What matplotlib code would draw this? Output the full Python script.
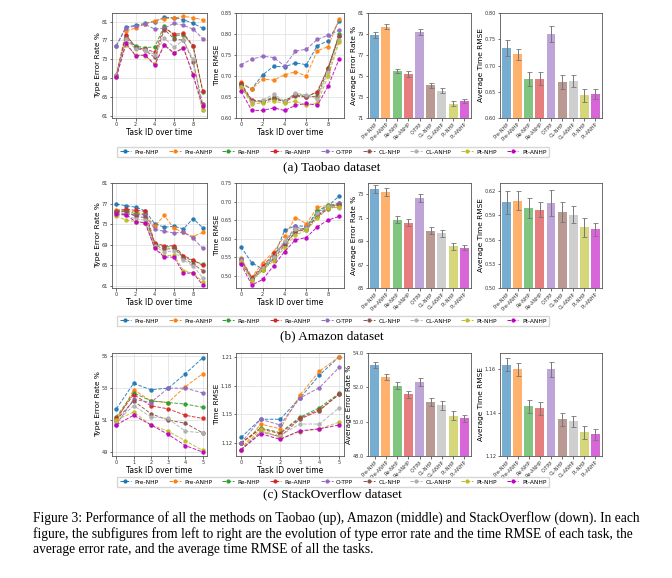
import numpy as np
import matplotlib.pyplot as plt
from matplotlib.lines import Line2D

W, H = 672, 578

methods = ['Pre-NHP', 'Pre-ANHP', 'Re-NHP', 'Re-ANHP', 'O-TPP',
           'CL-NHP', 'CL-ANHP', 'Pt-NHP', 'Pt-ANHP']
colors = ['tab:blue', 'tab:orange', 'tab:green', 'tab:red', 'tab:purple',
          'tab:brown', '#b0b0b0', 'tab:olive', 'm']

# ---------------- Taobao ----------------
tb_err = [
    [75.9, 79.8, 80.2, 80.6, 81.0, 81.9, 81.8, 81.4, 80.6, 79.6],
    [69.5, 79.0, 79.6, 80.5, 81.2, 81.6, 81.7, 82.1, 81.8, 81.4],
    [69.7, 78.0, 75.8, 75.5, 75.6, 80.1, 78.0, 78.2, 75.8, 66.2],
    [69.5, 78.2, 75.5, 75.2, 74.5, 79.7, 78.3, 78.5, 75.9, 66.4],
    [75.8, 79.7, 80.0, 80.4, 79.4, 79.6, 80.6, 80.2, 79.4, 77.4],
    [69.4, 77.6, 75.3, 74.9, 73.4, 79.3, 77.4, 77.0, 72.5, 63.5],
    [69.6, 77.2, 75.2, 75.0, 74.0, 77.5, 75.6, 77.0, 73.0, 62.3],
    [69.3, 76.1, 74.0, 73.8, 72.1, 76.1, 74.4, 75.4, 69.8, 62.2],
    [69.2, 76.4, 73.8, 73.9, 71.8, 76.0, 74.3, 75.4, 69.6, 63.2],
]
tb_rmse = [
    [0.680, 0.670, 0.703, 0.723, 0.722, 0.731, 0.727, 0.772, 0.784, 0.830],
    [0.685, 0.669, 0.693, 0.690, 0.703, 0.710, 0.700, 0.760, 0.770, 0.836],
    [0.680, 0.640, 0.640, 0.650, 0.640, 0.658, 0.652, 0.660, 0.720, 0.800],
    [0.683, 0.643, 0.640, 0.645, 0.640, 0.655, 0.650, 0.663, 0.720, 0.795],
    [0.727, 0.740, 0.747, 0.744, 0.724, 0.759, 0.764, 0.787, 0.797, 0.809],
    [0.678, 0.640, 0.638, 0.648, 0.638, 0.652, 0.650, 0.652, 0.716, 0.796],
    [0.675, 0.637, 0.642, 0.657, 0.640, 0.659, 0.655, 0.645, 0.710, 0.785],
    [0.675, 0.633, 0.636, 0.640, 0.635, 0.640, 0.630, 0.635, 0.700, 0.780],
    [0.664, 0.618, 0.618, 0.624, 0.618, 0.630, 0.635, 0.630, 0.676, 0.740],
]
tb_avg_err = [78.9, 79.7, 75.5, 75.2, 79.2, 74.1, 73.6, 72.35, 72.6]
tb_avg_err_sd = [0.3, 0.25, 0.2, 0.25, 0.25, 0.25, 0.25, 0.25, 0.2]
tb_avg_rmse = [0.734, 0.721, 0.674, 0.675, 0.760, 0.669, 0.671, 0.643, 0.646]
tb_avg_rmse_sd = [0.015, 0.01, 0.013, 0.012, 0.015, 0.013, 0.011, 0.013, 0.01]

# ---------------- Amazon ----------------
am_err = [
    [76.9, 76.6, 76.3, 75.6, 73.1, 72.4, 72.6, 72.1, 74.1, 72.3],
    [75.8, 75.7, 75.4, 74.9, 72.6, 74.7, 72.2, 71.4, 70.6, 71.4],
    [75.4, 75.6, 75.0, 74.9, 69.2, 68.6, 68.6, 66.6, 65.9, 65.2],
    [75.6, 75.9, 75.7, 75.5, 69.4, 68.8, 68.8, 66.9, 66.0, 65.0],
    [75.3, 75.0, 74.8, 74.8, 72.0, 71.6, 71.3, 71.4, 70.3, 68.3],
    [75.3, 75.5, 74.5, 74.3, 69.0, 68.1, 68.3, 66.5, 65.2, 64.0],
    [74.7, 74.8, 74.0, 73.8, 68.7, 67.6, 67.8, 66.0, 64.9, 62.6],
    [74.6, 73.8, 73.5, 73.2, 68.5, 66.8, 67.0, 64.0, 63.5, 61.8],
    [75.0, 74.8, 73.5, 73.3, 68.3, 66.6, 66.6, 63.5, 63.5, 61.2],
]
am_rmse = [
    [0.578, 0.535, 0.518, 0.550, 0.622, 0.635, 0.633, 0.672, 0.688, 0.715],
    [0.548, 0.497, 0.535, 0.565, 0.607, 0.657, 0.640, 0.684, 0.690, 0.690],
    [0.545, 0.493, 0.522, 0.555, 0.590, 0.625, 0.628, 0.675, 0.690, 0.695],
    [0.540, 0.495, 0.525, 0.560, 0.585, 0.618, 0.625, 0.660, 0.685, 0.693],
    [0.545, 0.490, 0.520, 0.548, 0.590, 0.633, 0.622, 0.665, 0.683, 0.697],
    [0.535, 0.490, 0.515, 0.545, 0.582, 0.618, 0.630, 0.660, 0.680, 0.690],
    [0.540, 0.488, 0.520, 0.550, 0.595, 0.625, 0.628, 0.668, 0.688, 0.682],
    [0.538, 0.487, 0.515, 0.540, 0.575, 0.610, 0.622, 0.655, 0.682, 0.685],
    [0.532, 0.475, 0.490, 0.527, 0.565, 0.597, 0.603, 0.632, 0.650, 0.660],
]
am_avg_err = [73.45, 73.2, 70.8, 70.55, 72.65, 69.9, 69.65, 68.55, 68.45]
am_avg_err_sd = [0.35, 0.35, 0.3, 0.3, 0.35, 0.3, 0.3, 0.3, 0.2]
am_avg_rmse = [0.606, 0.608, 0.599, 0.597, 0.605, 0.594, 0.591, 0.575, 0.573]
am_avg_rmse_sd = [0.014, 0.012, 0.012, 0.009, 0.016, 0.012, 0.011, 0.012, 0.008]

# ---------------- StackOverflow ----------------
so_err = [
    [51.7, 53.3, 52.9, 53.0, 53.9, 54.9],
    [50.9, 52.9, 52.2, 52.1, 53.1, 53.9],
    [51.2, 52.7, 52.2, 52.1, 52.0, 51.8],
    [51.1, 52.6, 51.9, 51.7, 51.3, 51.1],
    [50.7, 52.3, 52.1, 53.0, 53.0, 52.7],
    [51.0, 52.2, 51.4, 51.0, 50.8, 50.2],
    [50.9, 51.9, 51.2, 51.1, 50.3, 50.2],
    [51.0, 51.5, 50.7, 50.3, 49.7, 49.1],
    [50.7, 51.3, 50.7, 50.1, 49.4, 49.0],
]
so_rmse = [
    [1.126, 1.145, 1.145, 1.167, 1.191, 1.210],
    [1.113, 1.140, 1.135, 1.170, 1.195, 1.210],
    [1.120, 1.136, 1.131, 1.147, 1.157, 1.172],
    [1.120, 1.135, 1.130, 1.146, 1.155, 1.171],
    [1.120, 1.145, 1.139, 1.167, 1.178, 1.199],
    [1.113, 1.132, 1.127, 1.145, 1.154, 1.171],
    [1.113, 1.131, 1.128, 1.140, 1.140, 1.157],
    [1.113, 1.135, 1.125, 1.132, 1.135, 1.142],
    [1.113, 1.130, 1.124, 1.133, 1.135, 1.139],
]
so_avg_err = [53.3, 52.6, 52.1, 51.6, 52.3, 51.15, 50.95, 50.35, 50.2]
so_avg_err_sd = [0.2, 0.2, 0.2, 0.2, 0.25, 0.25, 0.25, 0.25, 0.2]
so_avg_rmse = [1.162, 1.160, 1.143, 1.142, 1.160, 1.137, 1.136, 1.131, 1.130]
so_avg_rmse_sd = [0.003, 0.003, 0.003, 0.003, 0.0035, 0.003, 0.0025, 0.003, 0.0025]


def ax_px(fig, x0, x1, y0, y1):
    # pixel box (top-left origin) -> figure axes
    return fig.add_axes([x0 / W, 1 - y1 / H, (x1 - x0) / W, (y1 - y0) / H])


def style(ax):
    for s in ax.spines.values():
        s.set_color('#555555')
        s.set_linewidth(0.6)
    ax.tick_params(labelsize=3.6, length=1.8, width=0.5, pad=1, colors='#333333')


def line_plot(ax, data, ylabel, ylim, yticks, xticks):
    style(ax)
    for vals, c in zip(data, colors):
        ax.plot(range(len(vals)), vals, '--', color=c, marker='o', markersize=2.2,
                linewidth=0.7, alpha=0.9)
    ax.set_ylim(*ylim)
    ax.set_yticks(yticks)
    ax.set_xticks(xticks)
    ax.grid(True, color='#dddddd', linewidth=0.5)
    ax.set_axisbelow(True)
    ax.set_ylabel(ylabel, fontsize=5.3, labelpad=0.5)
    ax.set_xlabel('Task ID over time', fontsize=5.5, labelpad=0.5)


def bar_plot(ax, vals, sds, ylabel, ylim, yticks, fmt=None):
    style(ax)
    x = np.arange(len(vals))
    ax.bar(x, vals, color=colors, alpha=0.6, width=0.8)
    ax.errorbar(x, vals, yerr=sds, fmt='none', ecolor='#777777', elinewidth=0.7,
                capsize=1.8, capthick=0.6)
    ax.set_ylim(*ylim)
    ax.set_yticks(yticks)
    if fmt:
        ax.set_yticklabels([fmt % t for t in yticks])
    ax.set_xlim(-0.6, len(vals) - 0.4)
    ax.set_xticks(x)
    ax.set_xticklabels(methods, rotation=45, ha='right', rotation_mode='anchor')
    ax.tick_params(axis='x', labelsize=3.6)
    ax.set_ylabel(ylabel, fontsize=5.3, labelpad=0.5)


fig = plt.figure(figsize=(W / 100, H / 100), dpi=100)

rows = [
    (13, 118, tb_err, tb_rmse, (tb_avg_err, tb_avg_err_sd), (tb_avg_rmse, tb_avg_rmse_sd),
     (60.6, 82.8), [61, 65, 69, 73, 77, 81], (0.60, 0.85), [0.60, 0.65, 0.70, 0.75, 0.80, 0.85],
     (71, 81), [71, 73, 75, 77, 79, 81], None, (0.60, 0.80), [0.60, 0.65, 0.70, 0.75, 0.80], '%.2f',
     range(0, 10, 2), 152, 167, '(a) Taobao dataset'),
    (183, 288, am_err, am_rmse, (am_avg_err, am_avg_err_sd), (am_avg_rmse, am_avg_rmse_sd),
     (60.6, 81.0), [61, 65, 69, 73, 77, 81], (0.467, 0.75), [0.50, 0.55, 0.60, 0.65, 0.70, 0.75],
     (65, 73.95), [65, 67, 69, 71, 73], None, (0.50, 0.63), [0.50, 0.53, 0.56, 0.59, 0.62], '%.2f',
     range(0, 10, 2), 321, 336, '(b) Amazon dataset'),
    (353, 456, so_err, so_rmse, (so_avg_err, so_avg_err_sd), (so_avg_rmse, so_avg_rmse_sd),
     (48.75, 55.2), [49, 51, 53, 55], (1.1067, 1.214), [1.12, 1.15, 1.18, 1.21],
     (48, 54), [48, 50, 52, 54], '%.1f', (1.12, 1.1675), [1.12, 1.14, 1.16], '%.2f',
     range(0, 6), 482, 494, '(c) StackOverflow dataset'),
]

for (y0, y1, err, rmse, aerr, armse, el, et, rl, rt, bel, bet, befmt, brl, brt, brfmt,
     xt, leg_y, cap_y, cap) in rows:
    a1 = ax_px(fig, 112, 207, y0, y1)
    line_plot(a1, err, 'Type Error Rate %', el, et, xt)
    a2 = ax_px(fig, 236, 344, y0, y1)
    line_plot(a2, rmse, 'Time RMSE', rl, rt, xt)
    a3 = ax_px(fig, 368, 471, y0, y1)
    bar_plot(a3, aerr[0], aerr[1], 'Average Error Rate %', bel, bet, befmt)
    a4 = ax_px(fig, 500, 602, y0, y1)
    bar_plot(a4, armse[0], armse[1], 'Average Time RMSE', brl, brt, brfmt)

    handles = [Line2D([], [], color=c, linestyle='--', marker='o', markersize=2,
                      linewidth=0.7) for c in colors]
    fig.legend(handles, methods, loc='center', bbox_to_anchor=(333 / W, 1 - leg_y / H),
               ncol=9, fontsize=4.2, frameon=True, handlelength=2.0, columnspacing=1.7,
               handletextpad=0.6, borderpad=0.35, fancybox=False, edgecolor='#cccccc')
    fig.text(332 / W, 1 - cap_y / H, cap, ha='center', va='center',
             fontsize=9.5, family='Liberation Serif')

caption = ("Figure 3: Performance of all the methods on Taobao (up), Amazon (middle) and StackOverflow (down). In each\n"
           "figure, the subfigures from left to right are the evolution of type error rate and the time RMSE of each task, the\n"
           "average error rate, and the average time RMSE of all the tasks.")
fig.text(33 / W, 1 - 511 / H, caption, ha='left', va='top', fontsize=9.75,
         family='Liberation Serif', linespacing=1.18)

fig.savefig('out.png', dpi=100)
